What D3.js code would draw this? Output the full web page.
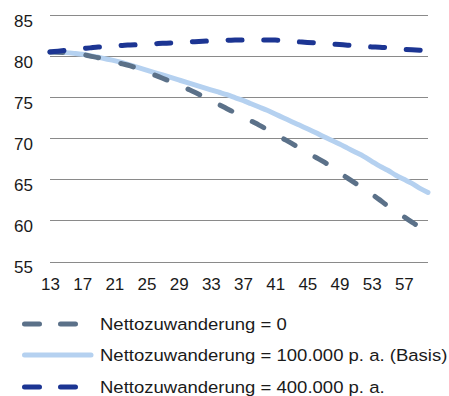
<!DOCTYPE html>
<html>
<head>
<meta charset="utf-8">
<script src="https://cdn.jsdelivr.net/npm/d3@7"></script>
<style>
  html, body { margin: 0; padding: 0; background: #fff; }
  svg { display: block; }
  text { font-family: "Liberation Sans", Arial, sans-serif; fill: #1a1a1a; }
</style>
</head>
<body>
<svg id="chart" width="449" height="396"></svg>
<script>
// ---- data ----
const years = d3.range(2013, 2061);
const tickYears = [2013, 2017, 2021, 2025, 2029, 2033, 2037, 2041, 2045, 2049, 2053, 2057];
const yTicks = [55, 60, 65, 70, 75, 80, 85];

const seriesNames = [
  "Nettozuwanderung = 0",
  "Nettozuwanderung = 100.000 p. a. (Basis)",
  "Nettozuwanderung = 400.000 p. a."
];

const zero = [80.5, 80.48, 80.42, 80.33, 80.2, 80.0, 79.8, 79.55, 79.3, 79.05,
  78.8, 78.45, 78.1, 77.7, 77.3, 76.9, 76.5, 76.05, 75.6, 75.1,
  74.6, 74.1, 73.6, 73.1, 72.6, 72.1, 71.6, 71.05, 70.5, 69.95,
  69.4, 68.8, 68.25, 67.7, 67.15, 66.5, 65.8, 65.15, 64.5, 63.85,
  63.2, 62.5, 61.75, 61.1, 60.45, 59.8, 59.15, 58.5];

const basis = [80.5, 80.48, 80.42, 80.33, 80.22, 80.05, 79.85, 79.65, 79.45, 79.2,
  78.9, 78.6, 78.3, 78.0, 77.7, 77.4, 77.1, 76.8, 76.5, 76.2,
  75.9, 75.6, 75.3, 74.95, 74.6, 74.2, 73.8, 73.4, 72.95, 72.5,
  72.05, 71.6, 71.15, 70.7, 70.2, 69.75, 69.3, 68.8, 68.3, 67.8,
  67.2, 66.6, 66.1, 65.5, 65.0, 64.5, 63.9, 63.4];

const high = [80.5, 80.6, 80.7, 80.8, 80.9, 81.0, 81.1, 81.15, 81.2, 81.3,
  81.35, 81.4, 81.45, 81.5, 81.55, 81.6, 81.65, 81.7, 81.75, 81.8,
  81.85, 81.9, 81.92, 81.95, 81.97, 81.97, 81.97, 81.97, 81.95, 81.88,
  81.8, 81.73, 81.66, 81.6, 81.55, 81.47, 81.4, 81.32, 81.25, 81.18,
  81.12, 81.08, 81.0, 80.88, 80.83, 80.77, 80.7, 80.63];

// ---- layout ----
const svg = d3.select("#chart");
const plotLeft = 50, plotRight = 428, plotTop = 15, plotBottom = 261.5;

const x = d3.scalePoint().domain(years).range([plotLeft, plotRight]);
const y = d3.scaleLinear().domain([55, 85]).range([plotBottom, plotTop]);

// gridlines
svg.append("g").selectAll("line").data(yTicks).join("line")
  .attr("x1", plotLeft).attr("x2", plotRight)
  .attr("y1", d => Math.round(y(d)) + 0.5).attr("y2", d => Math.round(y(d)) + 0.5)
  .attr("stroke", "#8a8a8a").attr("stroke-width", 1.2);

// y labels
const yAxis = d3.axisLeft(y).tickValues(yTicks).tickSize(0).tickPadding(0);
const gy = svg.append("g").attr("transform", "translate(33,0)").call(yAxis);
gy.select(".domain").remove();
gy.selectAll("text").attr("font-size", 17).attr("dy", "0.65em")
  .attr("font-family", "Liberation Sans, Arial, sans-serif").attr("fill", "#1a1a1a");

// x labels
const xAxis = d3.axisBottom(x).tickValues(tickYears).tickSize(0).tickPadding(0)
  .tickFormat(d => String(d).slice(2));
const gx = svg.append("g").attr("transform", "translate(0,277)").call(xAxis);
gx.select(".domain").remove();
gx.selectAll("text").attr("font-size", 17).attr("dy", "0.75em")
  .attr("font-family", "Liberation Sans, Arial, sans-serif").attr("fill", "#1a1a1a");

const styles = [
  { data: zero,  color: "#5b7189", dash: "13,23" },
  { data: basis, color: "#b5d1f0", dash: null },
  { data: high,  color: "#1c3593", dash: "14,21.7" }
];

const line = d3.line().x((d, i) => x(years[i])).y(d => y(d)).curve(d3.curveMonotoneX);

// draw order: basis, zero, high
[1, 0, 2].forEach(k => {
  const s = styles[k];
  const p = svg.append("path").datum(s.data)
    .attr("d", line)
    .attr("fill", "none")
    .attr("stroke", s.color)
    .attr("stroke-width", 5)
    .attr("stroke-linecap", "round")
    .attr("stroke-linejoin", "round");
  if (s.dash) p.attr("stroke-dasharray", s.dash);
});

// legend
const legY = [324, 355, 387];
const lg = svg.append("g");
styles.forEach((s, i) => {
  const l = lg.append("line")
    .attr("x1", 24.5).attr("x2", s.dash ? 75.5 : 91)
    .attr("y1", legY[i]).attr("y2", legY[i])
    .attr("stroke", s.color).attr("stroke-width", 5)
    .attr("stroke-linecap", "round");
  if (s.dash) l.attr("stroke-dasharray", "15,21");
  lg.append("text")
    .attr("transform", `translate(100,${legY[i]}) scale(1.09,1)`)
    .attr("dy", "0.36em")
    .attr("font-size", 17).text(seriesNames[i]);
});
</script>
</body>
</html>
